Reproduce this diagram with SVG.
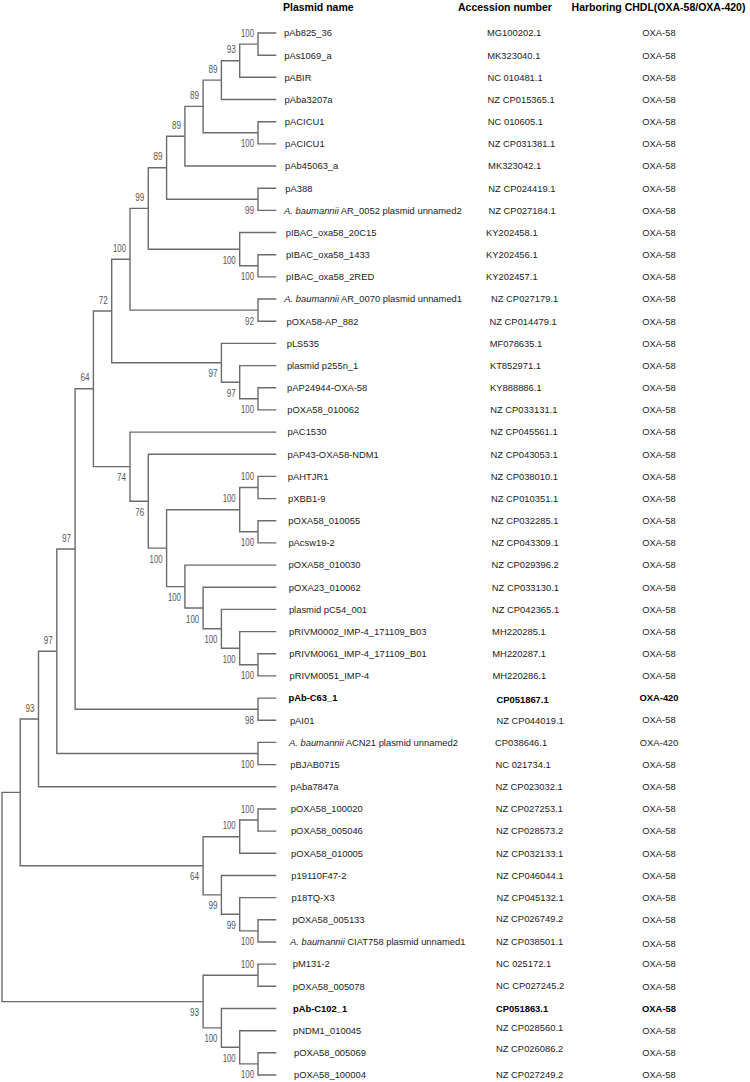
<svg xmlns="http://www.w3.org/2000/svg" width="750" height="1082" viewBox="0 0 750 1082">
<style>
.br{stroke:#6b6b6b;stroke-width:1.4;fill:none}
.bs{font-family:"Liberation Sans",Arial,sans-serif;font-size:10px;fill:#555;text-anchor:end}
.t{font-family:"Liberation Sans",Arial,sans-serif;font-size:9.4px;fill:#222}
.ox{text-anchor:middle}
.hd{font-family:"Liberation Sans",Arial,sans-serif;font-size:10.5px;font-weight:bold;fill:#000}
.b{font-weight:bold;fill:#000}
.i{font-style:italic}
</style>
<rect width="750" height="1082" fill="#fff"/>
<g id="header">
<text class="hd" x="283" y="10.5">Plasmid name</text>
<text class="hd" x="458" y="10.5">Accession number</text>
<text class="hd" x="658.5" y="10.5" text-anchor="middle">Harboring CHDL(OXA-58/OXA-420)</text>
</g>
<g id="connectors">
<path class="br" d="M276.3 33.0H258V55.2H276.3"/>
<path class="br" d="M258 44.1H239.7V77.3H276.3"/>
<path class="br" d="M239.7 60.7H221.4V99.5H276.3"/>
<path class="br" d="M276.3 121.7H258V143.9H276.3"/>
<path class="br" d="M221.4 80.1H203.1V132.8H258"/>
<path class="br" d="M203.1 106.4H184.9V166.0H276.3"/>
<path class="br" d="M276.3 188.2H258V210.4H276.3"/>
<path class="br" d="M184.9 136.2H166.6V199.3H258"/>
<path class="br" d="M276.3 254.7H258V276.9H276.3"/>
<path class="br" d="M276.3 232.5H239.7V265.8H258"/>
<path class="br" d="M166.6 167.7H148.3V249.2H239.7"/>
<path class="br" d="M276.3 299.0H258V321.2H276.3"/>
<path class="br" d="M148.3 208.4H130V310.1H258"/>
<path class="br" d="M276.3 387.7H258V409.9H276.3"/>
<path class="br" d="M276.3 365.6H239.7V398.8H258"/>
<path class="br" d="M276.3 343.4H221.4V382.2H239.7"/>
<path class="br" d="M130 259.3H111.7V362.8H221.4"/>
<path class="br" d="M276.3 476.4H258V498.6H276.3"/>
<path class="br" d="M276.3 520.7H258V542.9H276.3"/>
<path class="br" d="M258 487.5H239.7V531.8H258"/>
<path class="br" d="M276.3 653.8H258V675.9H276.3"/>
<path class="br" d="M276.3 631.6H239.7V664.8H258"/>
<path class="br" d="M276.3 609.4H221.4V648.2H239.7"/>
<path class="br" d="M276.3 587.3H203.1V628.8H221.4"/>
<path class="br" d="M276.3 565.1H184.9V608.0H203.1"/>
<path class="br" d="M239.7 509.7H166.6V586.6H184.9"/>
<path class="br" d="M276.3 454.2H148.3V548.1H166.6"/>
<path class="br" d="M276.3 432.1H130V501.2H148.3"/>
<path class="br" d="M111.7 311.0H93.4V466.6H130"/>
<path class="br" d="M276.3 698.1H258V720.3H276.3"/>
<path class="br" d="M93.4 388.8H75.1V709.2H258"/>
<path class="br" d="M276.3 742.4H258V764.6H276.3"/>
<path class="br" d="M75.1 549.0H56.8V753.5H258"/>
<path class="br" d="M56.8 651.3H38.5V786.8H276.3"/>
<path class="br" d="M276.3 809.0H258V831.1H276.3"/>
<path class="br" d="M258 820.0H239.7V853.3H276.3"/>
<path class="br" d="M276.3 919.8H258V942.0H276.3"/>
<path class="br" d="M276.3 897.6H239.7V930.9H258"/>
<path class="br" d="M276.3 875.5H221.4V914.3H239.7"/>
<path class="br" d="M239.7 836.7H203.1V894.9H221.4"/>
<path class="br" d="M38.5 719.0H20.2V865.8H203.1"/>
<path class="br" d="M276.3 964.1H258V986.3H276.3"/>
<path class="br" d="M276.3 1052.8H258V1075.0H276.3"/>
<path class="br" d="M276.3 1030.7H239.7V1063.9H258"/>
<path class="br" d="M276.3 1008.5H221.4V1047.3H239.7"/>
<path class="br" d="M258 975.2H203.1V1027.9H221.4"/>
<path class="br" d="M20.2 792.4H2V1001.6H203.1"/>
</g>
<g id="bootstrap">
<g id="node-P1"><text class="bs" x="254" y="36.6" textLength="13" lengthAdjust="spacingAndGlyphs">100</text></g>
<g id="node-P2"><text class="bs" x="235.7" y="53.2" textLength="9" lengthAdjust="spacingAndGlyphs">93</text></g>
<g id="node-P3"><text class="bs" x="217.4" y="72.6" textLength="9" lengthAdjust="spacingAndGlyphs">89</text></g>
<g id="node-P4"><text class="bs" x="254" y="147.3" textLength="13" lengthAdjust="spacingAndGlyphs">100</text></g>
<g id="node-P5"><text class="bs" x="199.1" y="98.9" textLength="9" lengthAdjust="spacingAndGlyphs">89</text></g>
<g id="node-P6"><text class="bs" x="180.9" y="128.7" textLength="9" lengthAdjust="spacingAndGlyphs">89</text></g>
<g id="node-P7"><text class="bs" x="254" y="213.8" textLength="9" lengthAdjust="spacingAndGlyphs">99</text></g>
<g id="node-P8"><text class="bs" x="162.6" y="160.2" textLength="9" lengthAdjust="spacingAndGlyphs">89</text></g>
<g id="node-Q1"><text class="bs" x="254" y="280.3" textLength="13" lengthAdjust="spacingAndGlyphs">100</text></g>
<g id="node-Q"><text class="bs" x="235.7" y="263.7" textLength="13" lengthAdjust="spacingAndGlyphs">100</text></g>
<g id="node-A"><text class="bs" x="144.3" y="200.9" textLength="9" lengthAdjust="spacingAndGlyphs">99</text></g>
<g id="node-R"><text class="bs" x="254" y="324.6" textLength="9" lengthAdjust="spacingAndGlyphs">92</text></g>
<g id="node-B"><text class="bs" x="126" y="251.8" textLength="13" lengthAdjust="spacingAndGlyphs">100</text></g>
<g id="node-S"><text class="bs" x="254" y="413.3" textLength="13" lengthAdjust="spacingAndGlyphs">100</text></g>
<g id="node-T"><text class="bs" x="235.7" y="396.7" textLength="9" lengthAdjust="spacingAndGlyphs">97</text></g>
<g id="node-E"><text class="bs" x="217.4" y="377.3" textLength="9" lengthAdjust="spacingAndGlyphs">97</text></g>
<g id="node-C"><text class="bs" x="107.7" y="303.5" textLength="9" lengthAdjust="spacingAndGlyphs">72</text></g>
<g id="node-O21"><text class="bs" x="254" y="480" textLength="13" lengthAdjust="spacingAndGlyphs">100</text></g>
<g id="node-O23"><text class="bs" x="254" y="546.3" textLength="13" lengthAdjust="spacingAndGlyphs">100</text></g>
<g id="node-J"><text class="bs" x="235.7" y="502.2" textLength="13" lengthAdjust="spacingAndGlyphs">100</text></g>
<g id="node-O"><text class="bs" x="254" y="679.3" textLength="13" lengthAdjust="spacingAndGlyphs">100</text></g>
<g id="node-N"><text class="bs" x="235.7" y="662.7" textLength="13" lengthAdjust="spacingAndGlyphs">100</text></g>
<g id="node-M"><text class="bs" x="217.4" y="643.3" textLength="13" lengthAdjust="spacingAndGlyphs">100</text></g>
<g id="node-L"><text class="bs" x="199.1" y="622.5" textLength="13" lengthAdjust="spacingAndGlyphs">100</text></g>
<g id="node-K"><text class="bs" x="180.9" y="601.1" textLength="13" lengthAdjust="spacingAndGlyphs">100</text></g>
<g id="node-I"><text class="bs" x="162.6" y="562.6" textLength="13" lengthAdjust="spacingAndGlyphs">100</text></g>
<g id="node-H"><text class="bs" x="144.3" y="515.7" textLength="9" lengthAdjust="spacingAndGlyphs">76</text></g>
<g id="node-G"><text class="bs" x="126" y="481.1" textLength="9" lengthAdjust="spacingAndGlyphs">74</text></g>
<g id="node-D"><text class="bs" x="89.4" y="381.3" textLength="9" lengthAdjust="spacingAndGlyphs">64</text></g>
<g id="node-U"><text class="bs" x="254" y="723.7" textLength="9" lengthAdjust="spacingAndGlyphs">98</text></g>
<g id="node-F"><text class="bs" x="71.1" y="541.5" textLength="9" lengthAdjust="spacingAndGlyphs">97</text></g>
<g id="node-V"><text class="bs" x="254" y="768" textLength="13" lengthAdjust="spacingAndGlyphs">100</text></g>
<g id="node-W"><text class="bs" x="52.8" y="643.8" textLength="9" lengthAdjust="spacingAndGlyphs">97</text></g>
<g id="node-X"><text class="bs" x="34.5" y="711.5" textLength="9" lengthAdjust="spacingAndGlyphs">93</text></g>
<g id="node-Z1"><text class="bs" x="254" y="812.5" textLength="13" lengthAdjust="spacingAndGlyphs">100</text></g>
<g id="node-Z2"><text class="bs" x="235.7" y="829.2" textLength="13" lengthAdjust="spacingAndGlyphs">100</text></g>
<g id="node-Z3"><text class="bs" x="254" y="945.4" textLength="13" lengthAdjust="spacingAndGlyphs">100</text></g>
<g id="node-Z4"><text class="bs" x="235.7" y="928.8" textLength="9" lengthAdjust="spacingAndGlyphs">99</text></g>
<g id="node-Z5"><text class="bs" x="217.4" y="909.4" textLength="9" lengthAdjust="spacingAndGlyphs">99</text></g>
<g id="node-Z"><text class="bs" x="199.1" y="880.3" textLength="9" lengthAdjust="spacingAndGlyphs">64</text></g>
<g id="node-Y"></g>
<g id="node-BB1"><text class="bs" x="254" y="967.7" textLength="13" lengthAdjust="spacingAndGlyphs">100</text></g>
<g id="node-BB2"><text class="bs" x="254" y="1078.4" textLength="13" lengthAdjust="spacingAndGlyphs">100</text></g>
<g id="node-BB3"><text class="bs" x="235.7" y="1061.8" textLength="13" lengthAdjust="spacingAndGlyphs">100</text></g>
<g id="node-BB4"><text class="bs" x="217.4" y="1042.4" textLength="13" lengthAdjust="spacingAndGlyphs">100</text></g>
<g id="node-BB"><text class="bs" x="199.1" y="1016.1" textLength="9" lengthAdjust="spacingAndGlyphs">93</text></g>
<g id="node-root"></g>
</g>
<g id="leaves">
<g id="leaf-1"><text class="t" x="284" y="36.3">pAb825_36</text><text class="t" x="487" y="36.3">MG100202.1</text><text class="t ox" x="659" y="36.3">OXA-58</text></g>
<g id="leaf-2"><text class="t" x="284.2" y="58.5">pAs1069_a</text><text class="t" x="487.2" y="58.5">MK323040.1</text><text class="t ox" x="659" y="58.5">OXA-58</text></g>
<g id="leaf-3"><text class="t" x="284.4" y="80.6">pABIR</text><text class="t" x="487.4" y="80.6">NC 010481.1</text><text class="t ox" x="659" y="80.6">OXA-58</text></g>
<g id="leaf-4"><text class="t" x="284.6" y="102.8">pAba3207a</text><text class="t" x="487.6" y="102.8">NZ CP015365.1</text><text class="t ox" x="659" y="102.8">OXA-58</text></g>
<g id="leaf-5"><text class="t" x="284.8" y="125.0">pACICU1</text><text class="t" x="487.8" y="125.0">NC 010605.1</text><text class="t ox" x="659" y="125.0">OXA-58</text></g>
<g id="leaf-6"><text class="t" x="285.0" y="147.2">pACICU1</text><text class="t" x="488.0" y="147.2">NZ CP031381.1</text><text class="t ox" x="659" y="147.2">OXA-58</text></g>
<g id="leaf-7"><text class="t" x="285.1" y="169.3">pAb45063_a</text><text class="t" x="488.1" y="169.3">MK323042.1</text><text class="t ox" x="659" y="169.3">OXA-58</text></g>
<g id="leaf-8"><text class="t" x="285.3" y="191.5">pA388</text><text class="t" x="488.3" y="191.5">NZ CP024419.1</text><text class="t ox" x="659" y="191.5">OXA-58</text></g>
<g id="leaf-9"><text class="t" x="284" y="213.7"><tspan class="i">A. baumannii</tspan> AR_0052 plasmid unnamed2</text><text class="t" x="488.5" y="213.7">NZ CP027184.1</text><text class="t ox" x="659" y="213.7">OXA-58</text></g>
<g id="leaf-10"><text class="t" x="285.7" y="235.8">pIBAC_oxa58_20C15</text><text class="t" x="486" y="235.8">KY202458.1</text><text class="t ox" x="659" y="235.8">OXA-58</text></g>
<g id="leaf-11"><text class="t" x="285.9" y="258.0">pIBAC_oxa58_1433</text><text class="t" x="486" y="258.0">KY202456.1</text><text class="t ox" x="659" y="258.0">OXA-58</text></g>
<g id="leaf-12"><text class="t" x="286.1" y="280.2">pIBAC_oxa58_2RED</text><text class="t" x="486" y="280.2">KY202457.1</text><text class="t ox" x="659" y="280.2">OXA-58</text></g>
<g id="leaf-13"><text class="t" x="284.3" y="302.3"><tspan class="i">A. baumannii</tspan> AR_0070 plasmid unnamed1</text><text class="t" x="491" y="302.3">NZ CP027179.1</text><text class="t ox" x="659" y="302.3">OXA-58</text></g>
<g id="leaf-14"><text class="t" x="286.5" y="324.5">pOXA58-AP_882</text><text class="t" x="489.5" y="324.5">NZ CP014479.1</text><text class="t ox" x="659" y="324.5">OXA-58</text></g>
<g id="leaf-15"><text class="t" x="286.7" y="346.7">pLS535</text><text class="t" x="489.7" y="346.7">MF078635.1</text><text class="t ox" x="659" y="346.7">OXA-58</text></g>
<g id="leaf-16"><text class="t" x="286.9" y="368.9">plasmid p255n_1</text><text class="t" x="489.9" y="368.9">KT852971.1</text><text class="t ox" x="659" y="368.9">OXA-58</text></g>
<g id="leaf-17"><text class="t" x="287.0" y="391.0">pAP24944-OXA-58</text><text class="t" x="490.0" y="391.0">KY888886.1</text><text class="t ox" x="659" y="391.0">OXA-58</text></g>
<g id="leaf-18"><text class="t" x="287.2" y="413.2">pOXA58_010062</text><text class="t" x="490.2" y="413.2">NZ CP033131.1</text><text class="t ox" x="659" y="413.2">OXA-58</text></g>
<g id="leaf-19"><text class="t" x="287.4" y="435.4">pAC1530</text><text class="t" x="490.4" y="435.4">NZ CP045561.1</text><text class="t ox" x="659" y="435.4">OXA-58</text></g>
<g id="leaf-20"><text class="t" x="287.6" y="457.5">pAP43-OXA58-NDM1</text><text class="t" x="490.6" y="457.5">NZ CP043053.1</text><text class="t ox" x="659" y="457.5">OXA-58</text></g>
<g id="leaf-21"><text class="t" x="287.8" y="479.7">pAHTJR1</text><text class="t" x="490.8" y="479.7">NZ CP038010.1</text><text class="t ox" x="659" y="479.7">OXA-58</text></g>
<g id="leaf-22"><text class="t" x="288.0" y="501.9">pXBB1-9</text><text class="t" x="491.0" y="501.9">NZ CP010351.1</text><text class="t ox" x="659" y="501.9">OXA-58</text></g>
<g id="leaf-23"><text class="t" x="288.2" y="524.0">pOXA58_010055</text><text class="t" x="491.2" y="524.0">NZ CP032285.1</text><text class="t ox" x="659" y="524.0">OXA-58</text></g>
<g id="leaf-24"><text class="t" x="288.4" y="546.2">pAcsw19-2</text><text class="t" x="491.4" y="546.2">NZ CP043309.1</text><text class="t ox" x="659" y="546.2">OXA-58</text></g>
<g id="leaf-25"><text class="t" x="288.6" y="568.4">pOXA58_010030</text><text class="t" x="491.6" y="568.4">NZ CP029396.2</text><text class="t ox" x="659" y="568.4">OXA-58</text></g>
<g id="leaf-26"><text class="t" x="288.8" y="590.6">pOXA23_010062</text><text class="t" x="491.8" y="590.6">NZ CP033130.1</text><text class="t ox" x="659" y="590.6">OXA-58</text></g>
<g id="leaf-27"><text class="t" x="288.9" y="612.7">plasmid pC54_001</text><text class="t" x="491.9" y="612.7">NZ CP042365.1</text><text class="t ox" x="659" y="612.7">OXA-58</text></g>
<g id="leaf-28"><text class="t" x="289.1" y="634.9">pRIVM0002_IMP-4_171109_B03</text><text class="t" x="492.1" y="634.9">MH220285.1</text><text class="t ox" x="659" y="634.9">OXA-58</text></g>
<g id="leaf-29"><text class="t" x="289.3" y="657.1">pRIVM0061_IMP-4_171109_B01</text><text class="t" x="492.3" y="657.1">MH220287.1</text><text class="t ox" x="659" y="657.1">OXA-58</text></g>
<g id="leaf-30"><text class="t" x="289.5" y="679.2">pRIVM0051_IMP-4</text><text class="t" x="492.5" y="679.2">MH220286.1</text><text class="t ox" x="659" y="679.2">OXA-58</text></g>
<g id="leaf-31"><text class="t b" x="288.5" y="701.4">pAb-C63_1</text><text class="t b" x="496.5" y="702.5">CP051867.1</text><text class="t ox b" x="659" y="701.4">OXA-420</text></g>
<g id="leaf-32"><text class="t" x="289.9" y="723.6">pAI01</text><text class="t" x="496.5" y="723.6">NZ CP044019.1</text><text class="t ox" x="659" y="722.5">OXA-58</text></g>
<g id="leaf-33"><text class="t" x="289" y="745.7"><tspan class="i">A. baumannii</tspan> ACN21 plasmid unnamed2</text><text class="t" x="495" y="745.7">CP038646.1</text><text class="t ox" x="659" y="745.7">OXA-420</text></g>
<g id="leaf-34"><text class="t" x="290.3" y="767.9">pBJAB0715</text><text class="t" x="495.5" y="767.9">NC 021734.1</text><text class="t ox" x="659" y="767.9">OXA-58</text></g>
<g id="leaf-35"><text class="t" x="290.5" y="790.1">pAba7847a</text><text class="t" x="495.5" y="790.1">NZ CP023032.1</text><text class="t ox" x="659" y="790.1">OXA-58</text></g>
<g id="leaf-36"><text class="t" x="290.7" y="812.3">pOXA58_100020</text><text class="t" x="495.7" y="812.3">NZ CP027253.1</text><text class="t ox" x="659" y="812.3">OXA-58</text></g>
<g id="leaf-37"><text class="t" x="290.9" y="834.4">pOXA58_005046</text><text class="t" x="495.9" y="834.4">NZ CP028573.2</text><text class="t ox" x="659" y="834.4">OXA-58</text></g>
<g id="leaf-38"><text class="t" x="291.1" y="856.6">pOXA58_010005</text><text class="t" x="496.1" y="856.6">NZ CP032133.1</text><text class="t ox" x="659" y="856.6">OXA-58</text></g>
<g id="leaf-39"><text class="t" x="291.3" y="878.8">p19110F47-2</text><text class="t" x="496.3" y="878.8">NZ CP046044.1</text><text class="t ox" x="659" y="878.8">OXA-58</text></g>
<g id="leaf-40"><text class="t" x="291.5" y="900.9">p18TQ-X3</text><text class="t" x="496.5" y="900.9">NZ CP045132.1</text><text class="t ox" x="659" y="900.9">OXA-58</text></g>
<g id="leaf-41"><text class="t" x="292.6" y="923.1">pOXA58_005133</text><text class="t" x="496" y="921.5">NZ CP026749.2</text><text class="t ox" x="659" y="923.1">OXA-58</text></g>
<g id="leaf-42"><text class="t" x="290" y="945.3"><tspan class="i">A. baumannii</tspan> CIAT758 plasmid unnamed1</text><text class="t" x="496" y="945.3">NZ CP038501.1</text><text class="t ox" x="659" y="947">OXA-58</text></g>
<g id="leaf-43"><text class="t" x="292.8" y="967.4">pM131-2</text><text class="t" x="496" y="966.5">NC 025172.1</text><text class="t ox" x="659" y="967.4">OXA-58</text></g>
<g id="leaf-44"><text class="t" x="292.8" y="989.6">pOXA58_005078</text><text class="t" x="496" y="988.5">NC CP027245.2</text><text class="t ox" x="659" y="989.6">OXA-58</text></g>
<g id="leaf-45"><text class="t b" x="293" y="1011.8">pAb-C102_1</text><text class="t b" x="496" y="1011.8">CP051863.1</text><text class="t ox b" x="659" y="1011.8">OXA-58</text></g>
<g id="leaf-46"><text class="t" x="293" y="1034.0">pNDM1_010045</text><text class="t" x="496" y="1031">NZ CP028560.1</text><text class="t ox" x="659" y="1034.0">OXA-58</text></g>
<g id="leaf-47"><text class="t" x="294" y="1056.1">pOXA58_005069</text><text class="t" x="496" y="1052">NZ CP026086.2</text><text class="t ox" x="659" y="1056.1">OXA-58</text></g>
<g id="leaf-48"><text class="t" x="294" y="1078.3">pOXA58_100004</text><text class="t" x="496" y="1077.5">NZ CP027249.2</text><text class="t ox" x="659" y="1078.3">OXA-58</text></g>
</g>
</svg>
